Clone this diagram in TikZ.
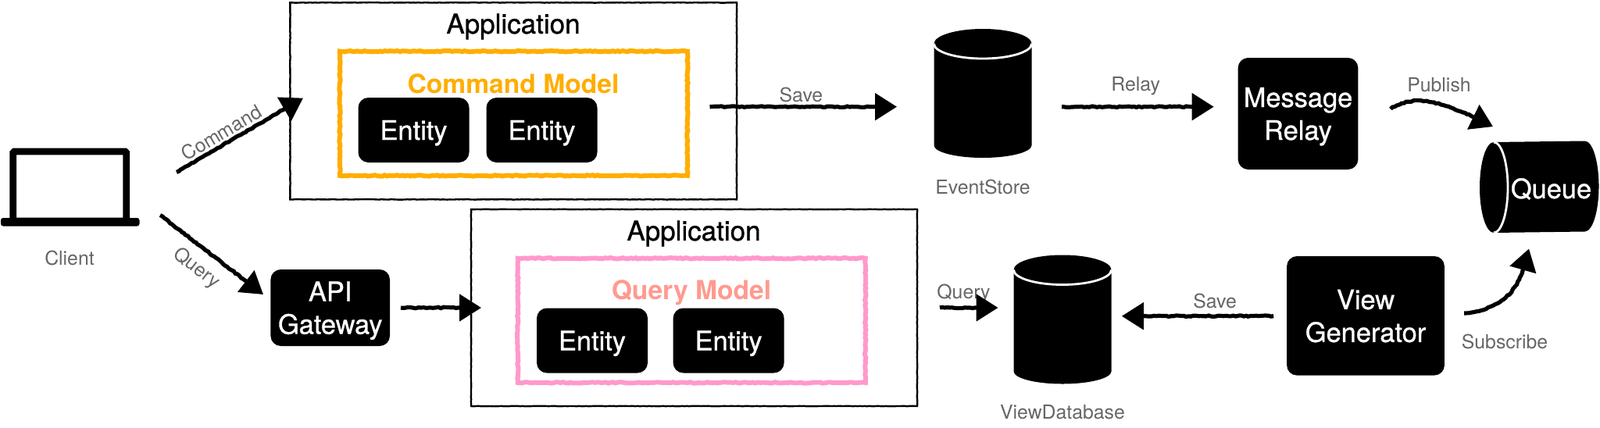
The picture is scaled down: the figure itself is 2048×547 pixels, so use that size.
\documentclass[tikz,border=0pt]{standalone}
\usepackage{fontspec}
\setmainfont{TeX Gyre Heros}
\newfontfamily\heavyfont[FakeBold=0.9]{TeX Gyre Heros}
\usetikzlibrary{arrows.meta,decorations.pathmorphing}
\definecolor{cmdorange}{HTML}{FFAD00}
\definecolor{qrypink}{HTML}{FF99CC}
\definecolor{qrysalmon}{HTML}{FF9A90}
\definecolor{labelgray}{HTML}{666666}
\tikzset{
  rough/.style={decorate,decoration={random steps,segment length=1.6pt,amplitude=.35pt,post length=15pt}},
  sketch/.style={rough,line width=2.6pt,-{Triangle[length=14pt,width=17pt]}},
  appbox/.style={draw,decorate,decoration={random steps,segment length=1.5pt,amplitude=.12pt},line width=1.2pt,outer sep=0pt,minimum width=#1*0.5pt,minimum height=126pt},
  modelbox/.style={draw,decorate,decoration={random steps,segment length=1.6pt,amplitude=.35pt},line width=3pt,outer sep=0pt,minimum width=222.5pt,minimum height=79.6pt},
  blackbox/.style={fill=black,text=white,rounded corners=6.5pt,align=center,outer sep=0pt,inner sep=0pt,text depth=0pt,
    font=\fontsize{17.2}{21}\heavyfont},
  storebox/.style={outer sep=0pt,inner sep=0pt,minimum width=62.5pt,minimum height=82.5pt},
  capline/.style={white,line width=1.4pt},
  gray label/.style={text=labelgray,inner sep=0pt,font=\fontsize{12.4}{15}\selectfont},
  title label/.style={inner sep=0pt,font=\fontsize{17.5}{21}\heavyfont},
  model label/.style={inner sep=0pt,font=\fontsize{16.8}{20}\selectfont\bfseries},
}
\begin{document}
\begin{tikzpicture}[x=0.5pt,y=-0.5pt]
\useasboundingbox (0,0) rectangle (2048,547);
% client laptop
\node[draw,line width=4.4pt,rounded corners=.8pt,outer sep=0pt,minimum width=72.5pt,minimum height=44.5pt] (screen) at (89.25,238.5) {};
\node[fill=black,rounded corners=1.5pt,outer sep=0pt,inner sep=0pt,minimum width=88.75pt,minimum height=5.25pt] (base) at (89.75,284.25) {};
\node[gray label] (client) at (89,330.6) {Client};
% applications
\node[appbox=571.6] (cmdapp) at (657.2,129.35) {};
\node[appbox=571] (qryapp) at (888.5,394) {};
\node[title label] (cmdtitle) at (657,34) {Application};
\node[title label] (qrytitle) at (888,299) {Application};
\node[modelbox,draw=cmdorange] (cmdmodel) at (657.5,145.3) {};
\node[modelbox,draw=qrypink] (qrymodel) at (885.3,410.35) {};
\node[model label,text=cmdorange] (cmdname) at (657,107) {Command Model};
\node[model label,text=qrysalmon] (qryname) at (885,375) {Query Model};
\foreach \nm/\xx/\yy in {enta/529.5/166.5,entb/693.5/166.5,entc/758/436,entd/932.6/436}
  {\node[blackbox,minimum width=71pt,minimum height=41.5pt] (\nm) at (\xx,\yy) {Entity};}
% boxes
\node[blackbox,minimum width=76.3pt,minimum height=49pt] (gateway) at (422.7,394) {API\\Gateway};
\node[blackbox,minimum width=76.85pt,minimum height=71.5pt] (relay) at (1661.5,145.5) {Message\\Relay};
\node[blackbox,minimum width=100.9pt,minimum height=76.3pt] (viewgen) at (1748,404.3) {View\\Generator};
% stores
\foreach \xx/\yy in {1258/56,1360/345.5}
  {\fill (\xx-62.5,\yy) arc[start angle=180,end angle=0,x radius=31.25pt,y radius=9.5pt]
     -- (\xx+62.5,\yy+130) arc[start angle=0,end angle=-180,x radius=31.25pt,y radius=8pt] -- cycle;
   \draw[capline] (\xx-62.5,\yy) arc[start angle=180,end angle=360,x radius=31.25pt,y radius=9.5pt];}
\fill (1912,182) arc[start angle=90,end angle=270,x radius=9pt,y radius=29pt]
  -- (2028.5,296.5) arc[start angle=-90,end angle=90,x radius=9pt,y radius=29pt] -- cycle;
\draw[capline] (1912,182) arc[start angle=90,end angle=-90,x radius=9pt,y radius=29pt];
\node[storebox] (evstore) at (1258,119.5) {};
\node[storebox] (viewdb) at (1360,408.75) {};
\node[storebox,minimum width=76.5pt,minimum height=58.6pt] (queue) at (1970,239.4) {};
\node[blackbox,fill=none] (queuename) at (1985.5,241) {Queue};
\node[gray label] (evname) at (1258,239.6) {EventStore};
\node[gray label] (viewname) at (1360,528) {ViewDatabase};
% connector labels
\node[gray label,rotate=30.4] (lbcmd) at (283.5,170) {Command};
\node[gray label,rotate=-37.6] (lbqry) at (251,343.6) {Query};
\node[gray label] (lbsave) at (1025.4,121.4) {Save};
\node[gray label] (lbrelay) at (1453.7,110) {Relay};
\node[gray label] (lbpub) at (1842,109) {Publish};
\node[gray label] (lbsub) at (1926,437) {Subscribe};
\node[gray label] (lbsavb) at (1555,385) {Save};
\node[gray label] (lbqryb) at (1233.5,375.6) {Query};
% connectors
\draw[sketch] ([shift={(64.25,-18.1)}]screen.east) -- ([shift={(16.6,-3.75)}]cmdapp.west);
\draw[sketch] ([shift={(26.5,-8.75)}]base.east) -- ([shift={(-9.4,-17)}]gateway.west);
\draw[sketch] ([shift={(14,0)}]gateway.east) -- ([shift={(13,0)}]qryapp.west);
\draw[sketch] ([shift={(-34.5,7.35)}]cmdapp.east) -- ([shift={(-47.5,17.2)}]evstore.west);
\draw[sketch] ([shift={(38.5,17.2)}]evstore.east) -- ([shift={(-31,-8.8)}]relay.west);
\draw[sketch] ([shift={(41.6,-6)}]relay.east) .. controls +(35,-24) and +(-50,-25) .. ([shift={(-59,-18.7)}]queue.north);
\draw[sketch] ([shift={(25.2,-3.3)}]viewgen.east) .. controls +(51,-6) and +(-12,55) .. ([shift={(-13,20.5)}]queue.south);
\draw[sketch] ([shift={(-17,0.3)}]viewgen.west) -- ([shift={(13.3,-4)}]viewdb.east);
\draw[sketch] ([shift={(29,0)}]qryapp.east) -- ([shift={(-20,-14.75)}]viewdb.west);
\end{tikzpicture}
\end{document}
